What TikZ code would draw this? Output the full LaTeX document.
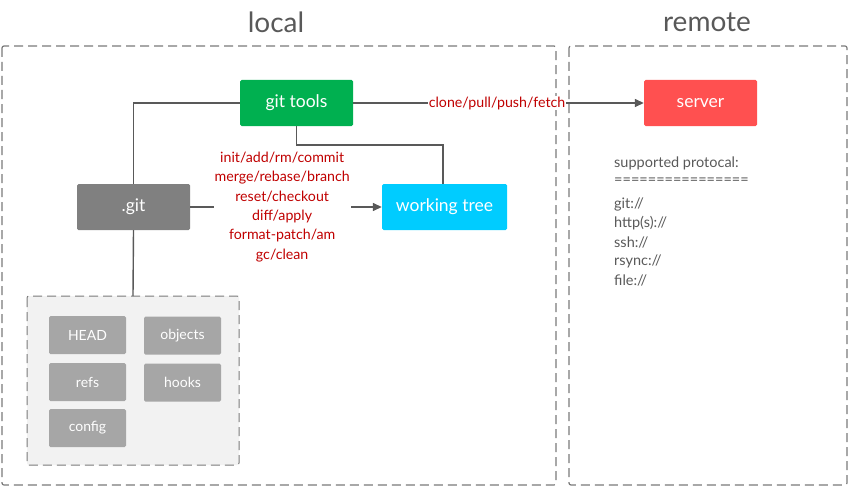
\documentclass[tikz,border=0pt]{standalone}
\usepackage{fontspec}
\setmainfont{Lato}
\usetikzlibrary{arrows.meta}
\definecolor{ggreen}{HTML}{00B050}
\definecolor{gred}{HTML}{FF5050}
\definecolor{ggray}{HTML}{808080}
\definecolor{gcyan}{HTML}{00CCFF}
\definecolor{glight}{HTML}{A6A6A6}
\definecolor{gfill}{HTML}{F2F2F2}
\definecolor{glabel}{HTML}{C00000}
\definecolor{gline}{HTML}{595959}
\definecolor{gtext}{HTML}{595959}
\tikzset{
  bigbox/.style={draw=none, rounded corners=1.5pt, minimum width=113pt, minimum height=46pt, text=white, font=\fontsize{17.5}{20}\selectfont, inner sep=0pt},
  smallbox/.style={draw=none, fill=glight, rounded corners=1.5pt, minimum width=77pt, minimum height=38pt, text=white, font=\fontsize{14}{16}\selectfont, inner sep=0pt},
  region/.style={draw=gline!80, dashed, dash pattern=on 9pt off 5pt, line width=1.2pt, rounded corners=2pt},
  conn/.style={draw=gline, line width=1.4pt},
  arr/.style={conn, -{Triangle[length=9pt,width=8pt]}},
  lbl/.style={text=glabel, fill=white, font=\fontsize{14.2}{19.3}\selectfont, align=center, inner sep=1pt},
  title/.style={text=gtext, font=\fontsize{28}{32}\selectfont},
  proto/.style={text=gtext, font=\fontsize{14.5}{19}\selectfont, anchor=west, inner sep=0pt}
}
\begin{document}
\begin{tikzpicture}[x=1pt,y=-1pt]
\useasboundingbox (0,0) rectangle (849,487);
% titles
\node[title] (tlocal) at (276,22) {local};
\node[title] (tremote) at (707,22) {remote};
% regions
\draw[region] (2,46) rectangle (556,485);
\draw[region] (569,46) rectangle (847,485);
% inner .git box
\draw[region, fill=gfill, line width=1pt] (27,296) rectangle (239,465);
\coordinate (innertop) at (133,296);
% main nodes
\node[bigbox, fill=ggreen] (tools) at (296.5,103) {git tools};
\node[bigbox, fill=gred] (server) at (700.5,103) {server};
\node[bigbox, fill=ggray] (git) at (133.5,207) {.git};
\node[bigbox, fill=gcyan, minimum width=125pt] (wt) at (444.5,207) {working tree};
% small nodes
\node[smallbox] (head) at (87.5,335) {HEAD};
\node[smallbox] (objects) at (182.5,335.5) {objects};
\node[smallbox] (refs) at (87.5,382) {refs};
\node[smallbox] (hooks) at (182.5,382.5) {hooks};
\node[smallbox] (config) at (87.5,428) {config};
% connectors
\draw[conn] (tools.west) -| (git.north);
\draw[conn] (tools.south) |- (443,145) -- (wt.north -| 443,0);
\draw[conn] (git.south) -- (innertop);
\draw[arr] (tools.east) -- node[lbl, pos=0.495] (l1) {clone/pull/push/fetch} (server.west);
\draw[arr] (git.east) -- node[lbl, pos=0.48] (l2) {init/add/rm/commit\\merge/rebase/branch\\reset/checkout\\diff/apply\\format-patch/am\\gc/clean} (wt.west);
% protocols
\node[proto] (p0) at (614,163) {supported protocal:};
\node[proto] (p1) at (614,181) {================};
\node[proto] (p2) at (614,204) {git://};
\node[proto] (p3) at (614,223) {http(s)://};
\node[proto] (p4) at (614,242) {ssh://};
\node[proto] (p5) at (614,261) {rsync://};
\node[proto] (p6) at (614,280) {file://};
\end{tikzpicture}
\end{document}
